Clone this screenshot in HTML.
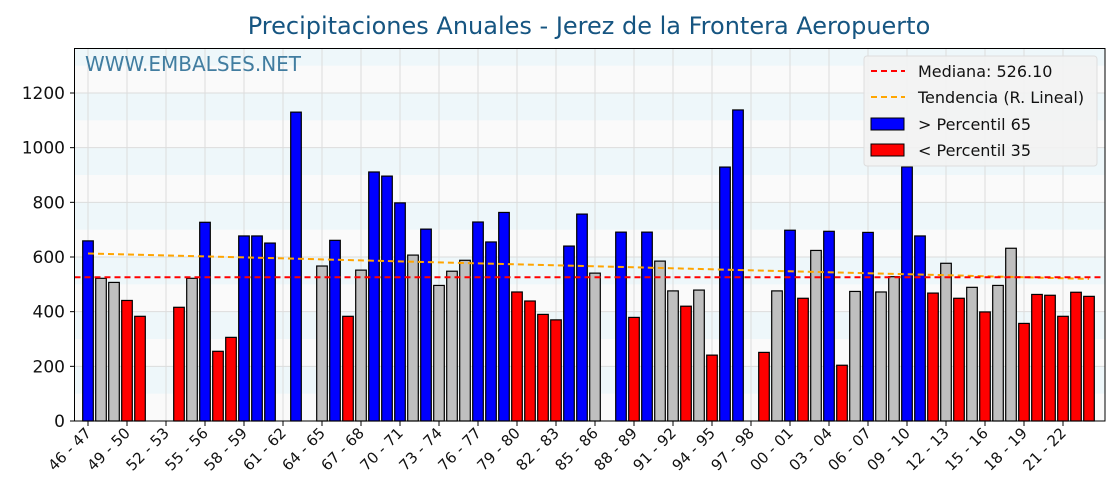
<!DOCTYPE html>
<html><head><meta charset="utf-8"><style>
html,body{margin:0;padding:0;background:#fff;width:1120px;height:500px;overflow:hidden}
svg{display:block;font-family:"DejaVu Sans","Liberation Sans",sans-serif}
</style></head><body>
<svg id="chart" width="1120" height="500" viewBox="0 0 1120 500" xmlns="http://www.w3.org/2000/svg">
<text x="589" y="34" font-size="24" fill="#165581" text-anchor="middle">Precipitaciones Anuales - Jerez de la Frontera Aeropuerto</text>
<g id="bands"></g><g id="grid"></g><g id="bars"></g><g id="lines"></g>
<text x="85" y="71" font-size="20" fill="#2e6f96" fill-opacity="0.9">WWW.EMBALSES.NET</text>
<rect x="74.5" y="48.5" width="1030.5" height="372.5" fill="none" stroke="#000" stroke-width="1"/>
<g id="axes"></g>
<g>
<rect x="864" y="56" width="233" height="110" rx="3" fill="#f2f2f2" fill-opacity="0.9" stroke="#ddd"/>
<line x1="871" y1="71" x2="905" y2="71" stroke="red" stroke-width="2" stroke-dasharray="6,4"/>
<text x="918" y="77" font-size="16" fill="#111">Mediana: 526.10</text>
<line x1="871" y1="97" x2="905" y2="97" stroke="orange" stroke-width="2" stroke-dasharray="6,4"/>
<text x="918" y="103" font-size="16" fill="#111">Tendencia (R. Lineal)</text>
<rect x="871" y="118" width="33" height="12" fill="blue" stroke="#000"/>
<text x="918" y="130" font-size="16" fill="#111">&gt; Percentil 65</text>
<rect x="871" y="144" width="33" height="12" fill="red" stroke="#000"/>
<text x="918" y="156" font-size="16" fill="#111">&lt; Percentil 35</text>
</g>
</svg>
<script>
const seasons = [];
for (let y = 46; y < 124; y++) { const a = y % 100, b = (y + 1) % 100; seasons.push(String(a).padStart(2,'0') + ' - ' + String(b).padStart(2,'0')); }
const values = [659,522,507,441,383,null,null,416,522,727,255,306,677,677,651,null,1130,null,567,661,383,552,911,896,798,607,702,496,548,588,728,655,763,472,439,390,370,640,757,541,null,691,379,691,585,476,420,479,241,929,1138,null,251,476,698,449,624,694,204,474,690,472,528,930,677,468,577,449,489,399,496,632,357,463,460,383,471,456];
const classes = "bggrr--rgbrrbbb-b-gbrgbbbgbgggbbbrrrrbbg-brbggrgrbb-rgbrgbrgbggbbrgrgrggrrrrrr";
const yTicks = [0,200,400,600,800,1000,1200];
const median = 526.1;
const trendStart = 613, trendEnd = 520;

const NS = 'http://www.w3.org/2000/svg';
const x0 = 88, step = 13.0, yBase = 421, yScale = 328/1200;
const X = i => x0 + i*step;
const Y = v => yBase - v*yScale;
function mk(tag, attrs, parent){ const e=document.createElementNS(NS,tag); for(const k in attrs) e.setAttribute(k,attrs[k]); parent.appendChild(e); return e; }
const bands=document.getElementById('bands'), grid=document.getElementById('grid'), bars=document.getElementById('bars'), lines=document.getElementById('lines'), axes=document.getElementById('axes');
mk('rect',{x:74.5,y:48.5,width:1030.5,height:372.5,fill:'#fafafa'},bands);
for(let v=100; v<1400; v+=200){ const top=Math.max(Y(v+100),48.5); const r=mk('rect',{x:74.5,y:top,width:1030.5,height:Y(v)-top,fill:'#eef7fa'},bands);

 }
yTicks.forEach(v=>{
 const l=mk('line',{x1:74.5,x2:1105,y1:Y(v),y2:Y(v),stroke:'#dcdcdc','stroke-width':1},grid);
 
 
 mk('line',{x1:70,x2:74.5,y1:Y(v),y2:Y(v),stroke:'#000'},axes);
 const t=mk('text',{x:65,y:Y(v)+6,'font-size':17,'text-anchor':'end',fill:'#111'},axes); t.textContent=v;
 
 
});
for(let i=0;i<seasons.length;i+=3){
 const x=X(i);
 const l=mk('line',{x1:x,x2:x,y1:48.5,y2:421,stroke:'#dcdcdc','stroke-width':1},grid);
 
 
 mk('line',{x1:x,x2:x,y1:421,y2:426,stroke:'#000'},axes);
 const t=mk('text',{x:x+4,y:434,'font-size':15,'text-anchor':'end',fill:'#111',transform:`rotate(-45 ${x+4} 434)`},axes); t.textContent=seasons[i];
 
 
}
const col={b:'blue',r:'red',g:'#bfbfbf'};
values.forEach((v,i)=>{
 if(v==null) return;
 const r=mk('rect',{x:X(i)-5.3,y:Y(v),width:10.6,height:yBase-Y(v),fill:col[classes[i]]||'#bfbfbf',stroke:'#000','stroke-width':1.2},bars);
 
 
});
const tl=mk('line',{x1:X(0),x2:X(values.length-1),y1:Y(trendStart),y2:Y(trendEnd),stroke:'orange','stroke-width':2,'stroke-dasharray':'6,4'},lines);


const ml=mk('line',{x1:74.5,x2:1105,y1:Y(median),y2:Y(median),stroke:'red','stroke-width':2,'stroke-dasharray':'6,4'},lines);


</script>
</body></html>
